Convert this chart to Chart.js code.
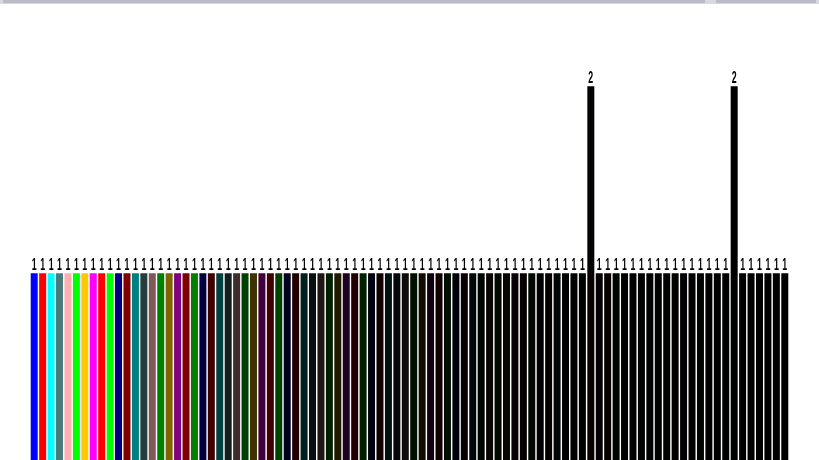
<!DOCTYPE html>
<html>
<head>
<meta charset="utf-8">
<script src="https://cdn.jsdelivr.net/npm/chart.js@4.4.1/dist/chart.umd.min.js"></script>
<style>
html,body{margin:0;padding:0;background:#fff;overflow:hidden;}
#wrap{position:relative;width:819px;height:460px;}
#strip{position:absolute;left:0;top:0;width:819px;height:4px;background:#d6d9e2;}
#strip .a{position:absolute;left:3px;top:0;width:702px;height:3px;background:#b9bcc8;}
#strip .b{position:absolute;left:716px;top:0;width:100px;height:3px;background:#b9bcc8;}
</style>
</head>
<body>
<div id="wrap">
<canvas id="c" width="819" height="460"></canvas>
<div id="strip"><div class="a"></div><div class="b"></div></div>
</div>
<script>
// Data
const values = [
  1,1,1,1,1,1,1,1,1,1,
  1,1,1,1,1,1,1,1,1,1,
  1,1,1,1,1,1,1,1,1,1,
  1,1,1,1,1,1,1,1,1,1,
  1,1,1,1,1,1,1,1,1,1,
  1,1,1,1,1,1,1,1,1,1,
  1,1,1,1,1,1,2,1,1,1,
  1,1,1,1,1,1,1,1,1,1,
  1,1,1,2,1,1,1,1,1,1
];
const categories = values.map((_, i) => 'Item ' + (i + 1));

// Styles
const baseColors = [
  [0,0,255],[255,0,0],[0,255,255],[75,122,124],[255,175,175],
  [0,255,0],[255,200,0],[255,0,255],[255,0,0],[0,255,0]
];
const barColors = categories.map((_, i) => {
  const c = baseColors[i % 10];
  const f = Math.pow(0.5, Math.floor(i / 10));
  return 'rgb(' + c.map(v => Math.round(v * f)).join(',') + ')';
});

const labelPlugin = {
  id: 'valueLabels',
  afterDatasetsDraw(chart) {
    const ctx = chart.ctx;
    const meta = chart.getDatasetMeta(0);
    ctx.fillStyle = '#000';
    ctx.font = 'bold 16px "Liberation Sans", sans-serif';
    ctx.textAlign = 'center';
    ctx.textBaseline = 'alphabetic';
    meta.data.forEach((bar, i) => {
      ctx.save();
      ctx.translate(bar.x, bar.y - 3);
      ctx.scale(0.55, 1);
      ctx.fillText(String(chart.data.datasets[0].data[i]), 0, 0);
      ctx.restore();
    });
  }
};

new Chart(document.getElementById('c'), {
  type: 'bar',
  data: {
    labels: categories,
    datasets: [{
      data: values,
      backgroundColor: barColors,
      borderWidth: 0,
      barPercentage: 0.83,
      categoryPercentage: 1.0
    }]
  },
  options: {
    responsive: false,
    animation: false,
    layout: { padding: { left: 30, right: 30, top: 49, bottom: 0 } },
    plugins: { legend: { display: false }, tooltip: { enabled: false } },
    scales: {
      x: { display: false, offset: true },
      y: { display: false, min: 0, max: 2.2 }
    }
  },
  plugins: [labelPlugin]
});
</script>
</body>
</html>
